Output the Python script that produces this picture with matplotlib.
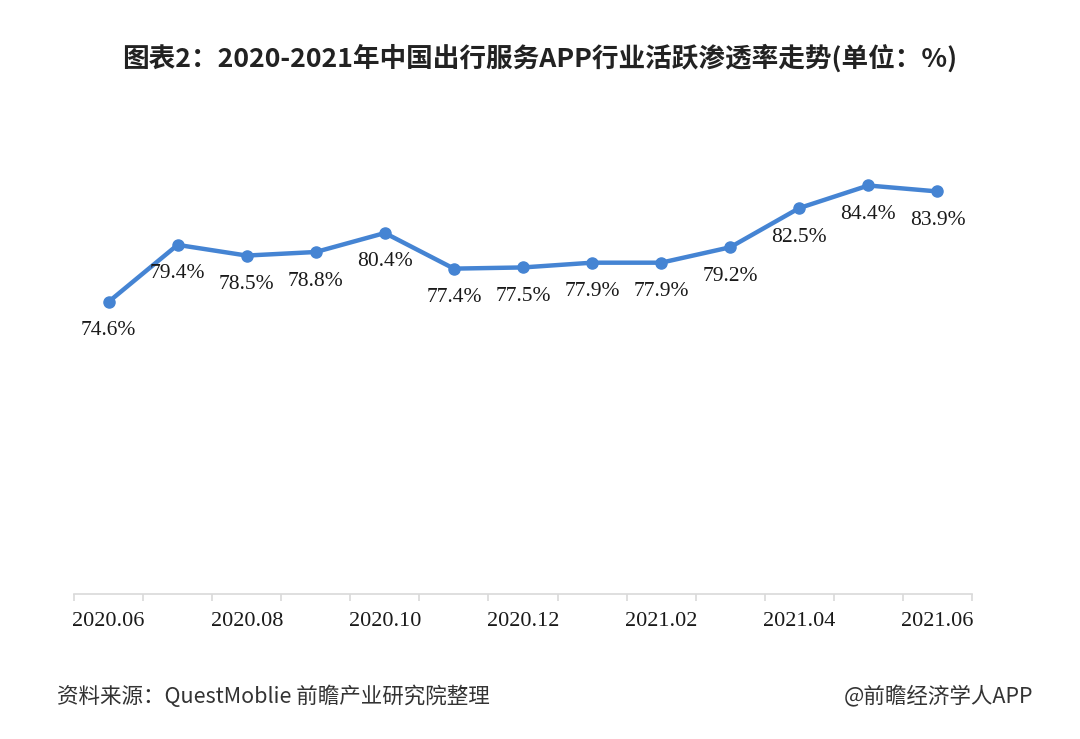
import matplotlib
matplotlib.use("Agg")
import matplotlib.pyplot as plt
from matplotlib.ticker import FixedLocator

months = ["2020.06", "2020.07", "2020.08", "2020.09", "2020.10", "2020.11", "2020.12",
          "2021.01", "2021.02", "2021.03", "2021.04", "2021.05", "2021.06"]
values = [74.6, 79.4, 78.5, 78.8, 80.4, 77.4, 77.5, 77.9, 77.9, 79.2, 82.5, 84.4, 83.9]

title = "图表2：2020-2021年中国出行服务APP行业活跃渗透率走势(单位：%)"
source = "资料来源：QuestMoblie 前瞻产业研究院整理"
credit = "@前瞻经济学人APP"

cjk = ["Noto Sans CJK SC", "DejaVu Sans"]
serif = ["Liberation Serif", "DejaVu Serif"]

fig = plt.figure(figsize=(10.8, 7.39), dpi=100)
ax = fig.add_axes([74/1080, 1-594/739, (972-74)/1080, (594-119)/739])

x = list(range(len(months)))
ax.plot(x, values, color="#4584D3", linewidth=3.2, marker="o", markersize=8,
        solid_capstyle="round", zorder=3)
for xi, v in zip(x, values):
    ax.annotate(f"{v:.1f}%", (xi, v), xytext=(0, -29), textcoords="offset pixels",
                ha="center", va="center", fontsize=15.5, family=serif, color="#1a1a1a")

ax.set_xlim(-0.5, len(months) - 0.5)
ax.set_ylim(50, 90)
ax.set_yticks([])
for s in ["top", "right", "left"]:
    ax.spines[s].set_visible(False)
ax.spines["bottom"].set_color("#d9d9d9")
ax.spines["bottom"].set_linewidth(1.2)

ax.xaxis.set_major_locator(FixedLocator(x[::2]))
ax.set_xticklabels(months[::2], family=serif, fontsize=16, color="#1a1a1a")
ax.xaxis.set_minor_locator(FixedLocator([i - 0.5 for i in range(len(months) + 1)]))
ax.tick_params(axis="x", which="major", length=0, pad=13)
ax.tick_params(axis="x", which="minor", length=5, color="#d9d9d9", width=1.2)

fig.text(0.5, 1-58/739, title, ha="center", va="center", fontsize=19.2,
         fontweight="bold", family=cjk, color="#222222")
fig.text(57/1080, 1-697/739, source, ha="left", va="center", fontsize=15.5,
         family=cjk, color="#333333")
fig.text(1033/1080, 1-697/739, credit, ha="right", va="center", fontsize=15.5,
         family=cjk, color="#333333")

fig.savefig("out.png", dpi=100)
